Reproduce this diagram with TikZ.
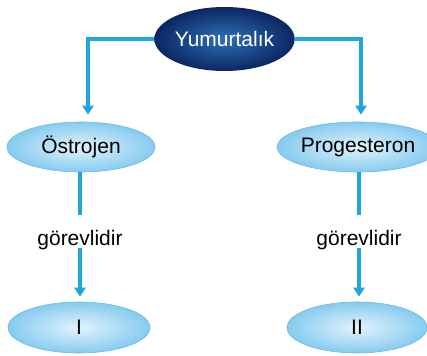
\documentclass[tikz,border=0pt]{standalone}
\usepackage{fontspec}
\setmainfont{Liberation Sans}
\usetikzlibrary{shapes.geometric,arrows.meta}
\definecolor{linkblue}{HTML}{1FA5E0}
\definecolor{lightin}{HTML}{E2F3FC}
\definecolor{lightout}{HTML}{86CBEF}
\definecolor{lightedge}{HTML}{6FB9E2}
\definecolor{darkin}{HTML}{2F70B8}
\definecolor{darkout}{HTML}{0B2761}
\tikzset{
  topbox/.style={ellipse, inner sep=0pt, minimum width=125pt, minimum height=64pt,
    shade, inner color=darkin, outer color=darkout, text=white, font=\fontsize{21}{24}\selectfont},
  hormbox/.style={ellipse, inner sep=0pt, minimum height=50pt, draw=lightedge, line width=0.6pt,
    shade, inner color=lightin, outer color=lightout, font=\fontsize{21}{24}\selectfont},
  verblabel/.style={inner sep=0pt, anchor=base, text height=30pt, text depth=3pt,
    font=\fontsize{21}{24}\selectfont},
  link/.style={draw=linkblue, line width=3.4pt, line join=miter},
  linkarrow/.style={link, -{Triangle[width=11pt,length=9pt]}}
}
\begin{document}
\begin{tikzpicture}[x=1pt,y=-1pt]
\useasboundingbox (0,0) rectangle (427,355);
\node[topbox] (Y) at (224.5,39) {Yumurtalık};
\node[hormbox, minimum width=148pt] (O) at (81,147) {Östrojen};
\node[hormbox, minimum width=138pt] (P) at (358,147) {Progesteron};
\node[verblabel] (g1) at (80,245) {görevlidir};
\node[verblabel] (g2) at (359,245) {görevlidir};
\node[hormbox, minimum width=142pt, minimum height=51pt] (I) at (79,327.5) {I};
\node[hormbox, minimum width=140pt, minimum height=51pt] (II) at (357,327.5) {II};
\draw[linkarrow] (Y.west) -| ([xshift=7pt,yshift=7pt]O.north);
\draw[linkarrow] (Y.east) -| ([xshift=3pt,yshift=7pt]P.north);
\draw[link] (O.south -| g1.north) -- (g1.north);
\draw[link] (P.south -| g2.north) -- (g2.north);
\draw[linkarrow] (g1.south) -- ([yshift=5pt]I.north -| g1.south);
\draw[linkarrow] (g2.south) -- ([yshift=5pt]II.north -| g2.south);
\end{tikzpicture}
\end{document}
